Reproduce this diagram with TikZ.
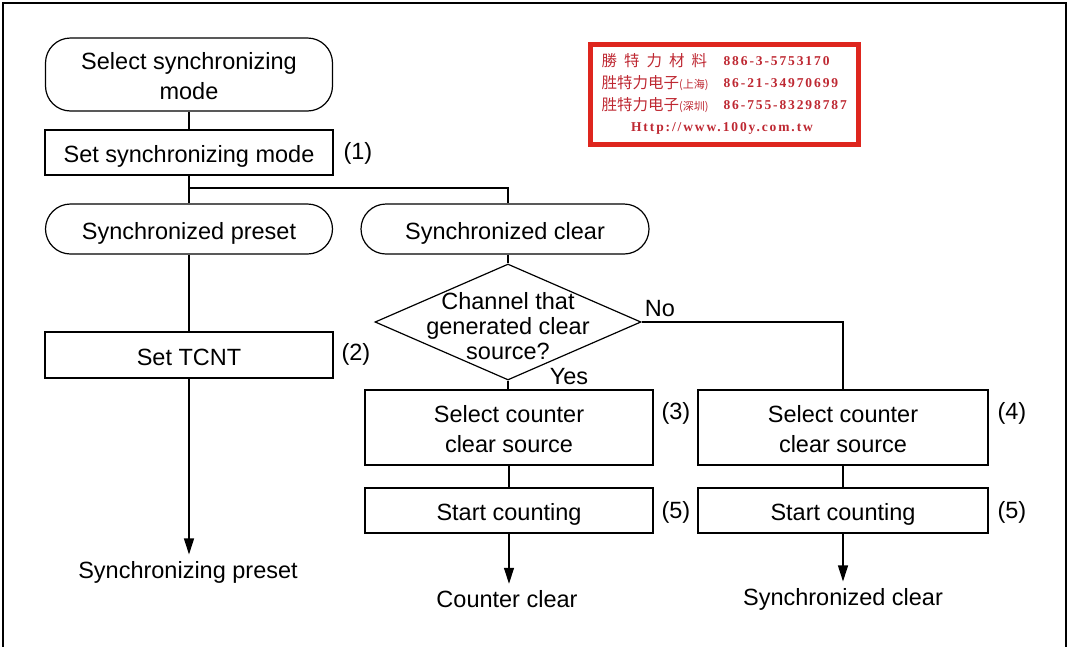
\documentclass[tikz,border=0pt]{standalone}
\usepackage{fontspec}
\setmainfont{Liberation Sans}
\newfontfamily\cjk{Noto Sans CJK TC}
\newfontfamily\stampfont[LetterSpace=14]{Liberation Serif}
\usetikzlibrary{arrows.meta,shapes.geometric,positioning,calc}

\definecolor{stampred}{RGB}{222,38,30}
\definecolor{stampink}{RGB}{190,40,50}

\tikzset{
  term/.style={draw,rounded corners=25pt,minimum width=287pt,inner sep=0pt,align=center},
  proc/.style={draw,minimum width=288pt,minimum height=45pt,inner sep=0pt,align=center},
  oneline/.style={text height=20pt,text depth=0pt},
  twoline/.style={text height=50pt,text depth=1pt},
  decide/.style={draw,diamond,minimum width=266pt,minimum height=116pt,inner sep=0pt},
  stepno/.style={anchor=west,inner sep=0pt},
  outlbl/.style={inner sep=6pt},
  stampline/.style={draw=stampred,line width=5pt},
  stamptext/.style={text=stampink,inner sep=0pt,font=\fontsize{13.5}{15}\selectfont},
}

\begin{document}
\begin{tikzpicture}[x=1pt,y=-1pt,line width=1.2pt,
    >={Triangle[length=16pt,width=10pt]},
    font=\fontsize{23.5}{30}\selectfont]
  \useasboundingbox (0,0) rectangle (1072,646);

  % Outer frame (open at the bottom).
  \draw[line width=1.5pt] (3,650) -- (3,3) -- (1066,3) -- (1066,650);

  % Left branch: mode selection and preset.
  \node[term,twoline,minimum height=73pt] (selmode) at (189,74.5) {Select synchronizing\\mode};
  \node[proc,oneline] (setmode) at (189,152.5) {Set synchronizing mode};
  \node[term,oneline,minimum height=50pt] (presetterm) at (189,229) {Synchronized preset};
  \node[proc,oneline,minimum height=46pt] (tcnt) at (189,355) {Set TCNT};
  \node[outlbl] (presetout) at (188,572) {Synchronizing preset};

  % Right branch: clear source decision.
  \node[term,oneline,minimum height=50pt,minimum width=288pt] (clrterm) at (505,229) {Synchronized clear};
  \node[decide] (chq) at (508,322) {};
  \node[align=center,inner sep=0pt,font=\fontsize{23.5}{25}\selectfont] (chqtext) at (508,326)
    {Channel that\\generated clear\\source?};
  \node (nolbl) at (660,309) {No};
  \node (yeslbl) at (569,377) {Yes};

  \node[proc,twoline,minimum height=75pt] (src3) at (509,427.5) {Select counter\\clear source};
  \node[proc,twoline,minimum height=75pt,minimum width=290pt] (src4) at (843,427.5) {Select counter\\clear source};
  \node[proc,oneline] (cnt3) at (509,510.5) {Start counting};
  \node[proc,oneline,minimum width=290pt] (cnt4) at (843,510.5) {Start counting};
  \node[outlbl] (ccout) at (507,599) {Counter clear};
  \node[outlbl] (scout) at (843,599) {Synchronized clear};

  % Step numbers.
  \foreach \nm/\xx/\yy/\txt in {
      stepA/343/153/(1),
      stepB/341/354/(2),
      stepC/661/413/(3),
      stepD/997/413/(4),
      stepE/661/512/(5),
      stepF/997/512/(5)
  }{
      \node[stepno] (\nm) at (\xx,\yy) {\txt};
  }

  % Connectors.
  \coordinate (fork) at (189,188);
  \draw (selmode) -- (setmode);
  \draw (setmode) -- (fork) -| (clrterm.north -| chq.north);
  \draw (fork) -- (presetterm);
  \draw (presetterm) -- (tcnt);
  \draw[->] (tcnt.south) -- (tcnt.south |- presetout.north);
  \draw (clrterm.south -| chq.north) -- (chq.north);
  \draw (chq.south) -- (src3.north -| chq.south);
  \draw (chq.east) -| (src4.north);
  \draw (src3) -- (cnt3);
  \draw (src4) -- (cnt4);
  \draw[->] (cnt3.south) -- (cnt3.south |- ccout.north);
  \draw[->] (cnt4.south) -- (cnt4.south |- scout.north);

  % Distributor stamp.
  \draw[stampline] (590.5,44.5) rectangle (858.5,144.5);
  \node[stamptext,anchor=west,font=\fontsize{15.5}{17}\selectfont] (firmA) at (601,61)
    {\cjk 勝\hspace{7pt}特\hspace{7pt}力\hspace{7pt}材\hspace{7pt}料};
  \node[stamptext,anchor=west] (telA) at (723,61) {\stampfont\bfseries 886-3-5753170};
  \node[stamptext,anchor=west,font=\fontsize{15.5}{17}\selectfont] (firmB) at (601,83)
    {\cjk 胜特力电子{\fontsize{11}{12}\selectfont(上海)}};
  \node[stamptext,anchor=west] (telB) at (723,83) {\stampfont\bfseries 86-21-34970699};
  \node[stamptext,anchor=west,font=\fontsize{15.5}{17}\selectfont] (firmC) at (601,105)
    {\cjk 胜特力电子{\fontsize{11}{12}\selectfont(深圳)}};
  \node[stamptext,anchor=west] (telC) at (723,105) {\stampfont\bfseries 86-755-83298787};
  \node[stamptext] (webD) at (722,128) {\stampfont\bfseries Http://www.100y.com.tw};
\end{tikzpicture}
\end{document}
